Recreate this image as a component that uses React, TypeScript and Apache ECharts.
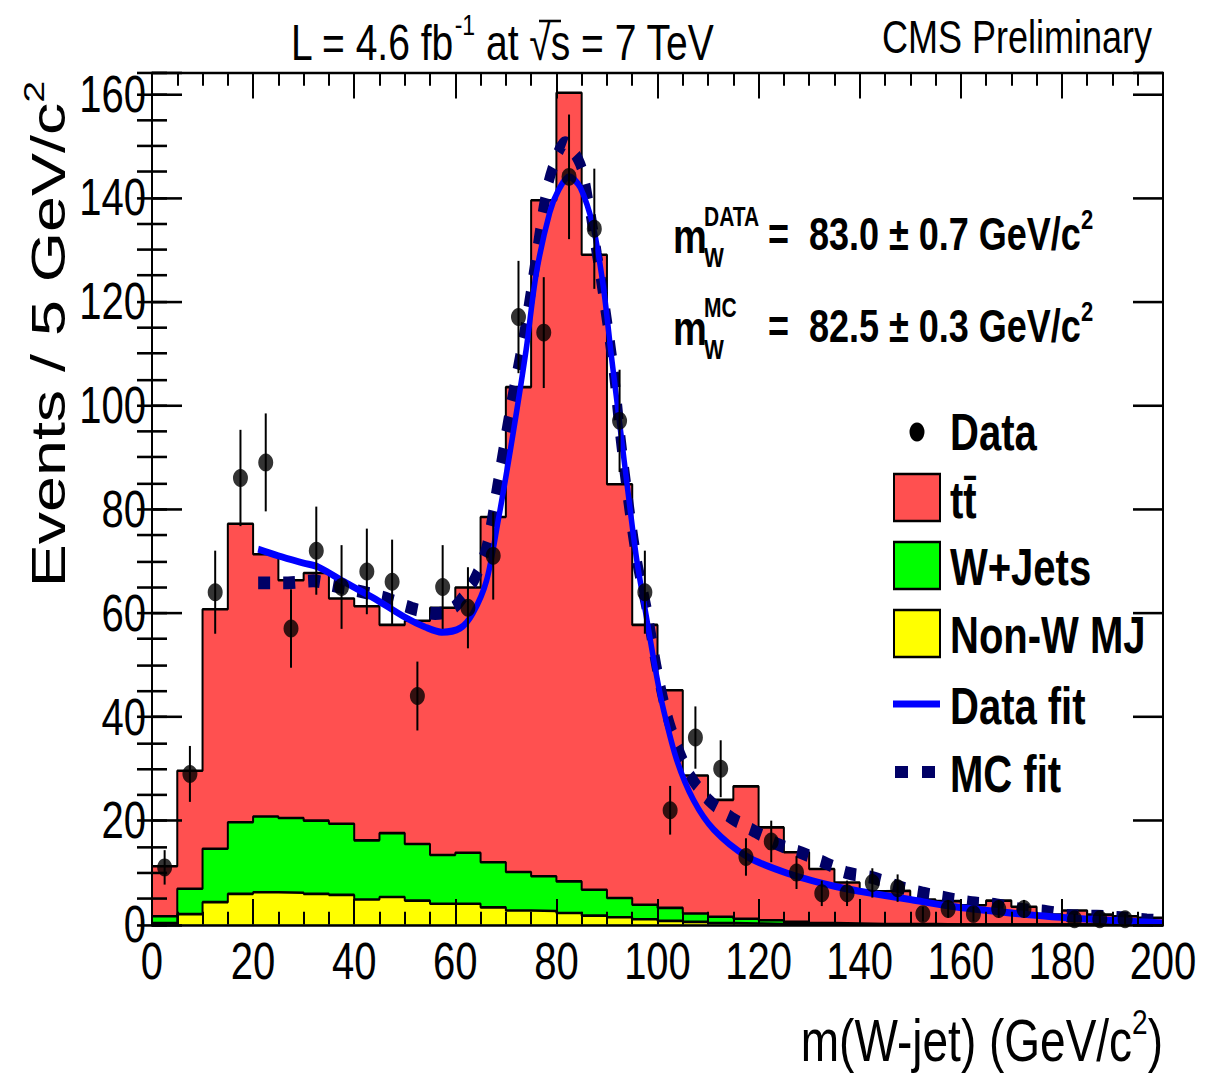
import React, { useEffect, useRef } from 'react';
import * as echarts from 'echarts';

// ---------------- data ----------------
const binWidth = 5; // GeV/c^2
// stacked MC contributions per 5 GeV bin, 0..200
const ttbar = [9.6, 22.7, 46.1, 57.5, 50.5, 45.8, 47.7, 43.4, 45.1, 40.1,
  43.0, 47.6, 51.1, 66.5, 93.4, 130.2, 151.9, 122.3, 79.7, 53.9,
  41.9, 26.6, 22.5, 25.5, 17.9, 13.4, 10.4, 7.9, 6.3, 6.4,
  4.7, 4.5, 3.7, 4.6, 3.4, 1.9, 2.7, 1.9, 1.6, 1.3];
const wJets = [1.3, 4.9, 10.3, 13.8, 14.6, 14.4, 14.1, 13.7, 11.4, 12.3,
  10.9, 9.4, 9.8, 8.7, 7.4, 6.7, 6.1, 5.0, 3.7, 2.8,
  2.5, 1.6, 1.2, 0.9, 0.7, 0.4, 0.3, 0.2, 0.1, 0.1,
  0.1, 0, 0, 0, 0, 0, 0, 0, 0, 0];
const nonWMJ = [0.3, 2.0, 4.3, 5.9, 6.2, 6.1, 5.9, 5.7, 4.8, 5.3,
  4.6, 4.0, 4.0, 3.3, 2.7, 2.6, 2.2, 1.7, 1.4, 1.0,
  0.7, 0.5, 0.3, 0.2, 0.1, 0.1, 0, 0, 0, 0,
  0, 0, 0, 0, 0, 0, 0, 0, 0, 0];
const dataCounts = [11, 29, 64, 86, 89, 57, 72, 65, 68, 66,
  44, 65, 61, 71, 117, 114, 144, 134, 97, 64,
  22, 36, 30, 13, 16, 10, 6, 6, 8, 7,
  2, 3, 2, 3, 3, 0, 1, 1, 1, 0];

const dataFitMass = [21, 25, 30, 33, 38, 44, 50, 54, 57.3, 61, 63.5, 66.2, 68.5, 71, 74, 76, 78.7, 80.5, 82.5, 84.7,
  87.3, 89.3, 90.9, 92.6, 94.2, 95.9, 97.9, 99.8, 101.2, 103.8, 107.1, 111.1, 117.7, 125.6, 134.8, 140, 150, 158, 168, 178, 190, 200];
const dataFitVals = [72.3, 71.0, 69.6, 68.8, 66.0, 62.8, 59.2, 57.3, 56.3, 57.1, 60.0, 66.3, 77.9, 92.0, 110.6, 125.3, 137.2, 141.6, 144.0, 142.0,
  134.3, 122.7, 109.3, 95.8, 83.0, 70.2, 58.7, 48.0, 41.3, 31.7, 24.0, 18.3, 13.1, 9.9, 7.4, 6.4, 4.8, 3.5, 2.4, 1.5, 0.8, 0.3];
const mcFitMass = [21, 26.9, 31.9, 36.5, 41.5, 46.4, 51.4, 56, 58.5, 60.6, 63.9, 66.2, 68.5, 71, 73.5, 75.4, 77.7, 79.1, 81.7, 84.7,
  86.3, 88, 89, 91.2, 92.6, 94.2, 95.9, 97.9, 99.8, 101.8, 103.8, 106.4, 110.1, 114.7, 119.3, 123.9, 128.5, 133.1, 137.7, 142.7,
  147.3, 152.3, 157.2, 162.2, 167.1, 172.1, 177, 181.6, 186.9, 191.6, 196.8, 200];
const mcFitVals = [65.8, 65.8, 66.2, 65.1, 64.1, 62.8, 60.9, 59.9, 60.3, 61.9, 66.7, 72.8, 85.6, 100.0, 113.1, 124.7, 139.4, 145.2, 150.6, 146.5,
  139.4, 129.2, 123.0, 107.7, 94.5, 81.7, 70.2, 60.6, 49.7, 40.7, 34.6, 28.8, 24.0, 20.5, 17.9, 15.4, 13.8, 11.9, 9.9, 9.0,
  7.4, 6.1, 5.1, 4.2, 3.8, 2.9, 2.5, 1.7, 1.6, 1.3, 0.9, 0.7];

const xMin = 0, xMax = 200, xStep = 20;
const yMin = 0, yMax = 164, yStep = 20, yMinorStep = 5;

// ---------------- layout ----------------
const W = 1227, H = 1077;
const S = 1.28;               // the original picture is stretched vertically
const Y = (v: number) => v / S; // reference pixel row -> chart row

const SANS = "'Liberation Sans', Arial, Helvetica, sans-serif";

const stepPoints = (vals: number[]) => {
  const pts: number[][] = [[0, 0]];
  vals.forEach((v, i) => pts.push([i * binWidth, v]));
  pts.push([vals.length * binWidth, vals[vals.length - 1]]);
  pts.push([vals.length * binWidth, 0]);
  return pts;
};

const txt = (x: number, y: number, text: string, o: any = {}) => ({
  type: 'text', x, y: Y(y), z: 100,
  scaleX: o.scaleX ?? 1, scaleY: 1, rotation: o.rotation ?? 0,
  style: {
    text, fill: '#000',
    fontSize: o.size ?? 40, fontFamily: SANS, fontWeight: o.weight ?? 'normal',
    align: o.align ?? 'left', verticalAlign: 'middle',
    textAlign: o.align ?? 'left', textVerticalAlign: 'middle',
    rich: o.rich,
  },
});

const supRich = (size: number, supSize: number, weight: string, lh: number) => ({
  n: { fontSize: size, fontWeight: weight, fontFamily: SANS, lineHeight: lh },
  s: { fontSize: supSize, fontWeight: weight, fontFamily: SANS, lineHeight: supSize, verticalAlign: 'top' },
});

export default function App() {
  const ref = useRef<HTMLDivElement>(null);
  useEffect(() => {
    if (!ref.current) return;
    const chart = echarts.init(ref.current, undefined, { renderer: 'svg' });

    const yellowTop = nonWMJ;
    const greenTop = nonWMJ.map((v, i) => v + wJets[i]);
    const redTop = greenTop.map((v, i) => v + ttbar[i]);
    const dataPts = dataCounts
      .map((c, i) => [i * binWidth + binWidth / 2, c])
      .filter((p) => p[1] > 0);

    const histLine = (name: string, vals: number[], color: string) => ({
      name, type: 'line', step: 'end', data: stepPoints(vals), symbol: 'none',
      lineStyle: { color: '#000', width: 2 }, areaStyle: { color, opacity: 1 },
      silent: true, z: 2,
    });

    const tickCommon = { color: '#000', width: 2 };
    const xAxisBase = {
      type: 'value', min: xMin, max: xMax, interval: xStep, z: 10,
      splitLine: { show: false },
      axisLine: { show: true, onZero: false, lineStyle: tickCommon },
      axisTick: { show: true, inside: true, length: 20, lineStyle: tickCommon },
      minorTick: { show: true, splitNumber: 4, length: 10, lineStyle: tickCommon },
    };
    const yMajorBase = {
      type: 'value', min: yMin, max: yMax, interval: yStep, z: 10,
      splitLine: { show: false },
      axisLine: { show: true, onZero: false, lineStyle: tickCommon },
      axisTick: { show: true, inside: true, length: 30, lineStyle: tickCommon },
    };
    const yMinorBase = {
      type: 'value', min: yMin, max: yMax, interval: yMinorStep, z: 10,
      splitLine: { show: false },
      axisLine: { show: false },
      axisLabel: { show: false },
      axisTick: { show: true, inside: true, length: 15, lineStyle: tickCommon },
    };

    const option: any = {
      animation: false,
      backgroundColor: '#fff',
      grid: { left: 152, right: 64, top: Y(73), bottom: Y(H - 925), show: false },
      xAxis: [
        { ...xAxisBase, position: 'bottom',
          axisLabel: { show: true, fontSize: 40, fontFamily: SANS, color: '#000', margin: 9 } },
        { ...xAxisBase, position: 'top', axisLabel: { show: false } },
      ],
      yAxis: [
        { ...yMajorBase, position: 'left',
          axisLabel: { show: true, fontSize: 40, fontFamily: SANS, color: '#000', margin: 6,
            formatter: (v: number) => (v % yStep === 0 ? String(v) : '') } },
        { ...yMinorBase, position: 'left' },
        { ...yMajorBase, position: 'right', axisLabel: { show: false } },
        { ...yMinorBase, position: 'right' },
      ],
      series: [
        histLine('ttbar', redTop, '#ff5050'),
        histLine('W+Jets', greenTop, '#00ff00'),
        histLine('Non-W MJ', yellowTop, '#ffff00'),
        {
          name: 'MC fit', type: 'line', smooth: 0.3, symbol: 'none', z: 4,
          data: mcFitMass.map((m, i) => [m, mcFitVals[i]]),
          lineStyle: { color: '#000066', width: 10, type: [12, 13], cap: 'butt' },
        },
        {
          name: 'Data fit', type: 'line', smooth: 0.3, symbol: 'none', z: 5,
          data: dataFitMass.map((m, i) => [m, dataFitVals[i]]),
          lineStyle: { color: '#0000ff', width: 5.5 },
        },
        {
          name: 'Data errors', type: 'custom', z: 6,
          data: dataPts.map(([x, c]) => [x, c, Math.sqrt(c)]),
          encode: { x: 0, y: 1 },
          renderItem: (_p: any, api: any) => {
            const x = api.value(0), y = api.value(1), e = api.value(2);
            const a = api.coord([x, y - e]);
            const b = api.coord([x, y + e]);
            return { type: 'line', shape: { x1: a[0], y1: a[1], x2: b[0], y2: b[1] },
              style: { stroke: '#000', lineWidth: 2 } };
          },
        },
        {
          name: 'Data', type: 'scatter', z: 7, data: dataPts,
          symbol: 'circle', symbolSize: [15, 14], itemStyle: { color: '#000' },
        },
      ],
      graphic: [
        // header
        txt(291, 42, '{n|L = 4.6 fb}{s|-1}{n| at \u221As = 7 TeV}', { size: 39, rich: supRich(39, 23, 'normal', 50) }),
        { type: 'line', z: 100, shape: { x1: 539, y1: Y(21), x2: 561, y2: Y(21) }, style: { stroke: '#000', lineWidth: 2 } },
        txt(1152, 37, 'CMS Preliminary', { size: 36, align: 'right' }),
        // y title (reads bottom to top)
        txt(48, 334, '{n|Events / 5 GeV/c}{s|2}', {
          size: 49, align: 'center', rotation: Math.PI / 2, scaleX: 1.03,
          rich: supRich(49, 30, 'normal', 60),
        }),
        // x title
        txt(1163, 1040, '{n|m(W-jet) (GeV/c}{s|2}{n|)}', { size: 46, align: 'right', rich: supRich(46, 28, 'normal', 57) }),
        // fitted masses
        txt(673, 236, 'm', { size: 38, weight: 'bold' }),
        txt(704, 217, 'DATA', { size: 21, weight: 'bold' }),
        txt(704, 258, 'W', { size: 21, weight: 'bold' }),
        txt(768, 234, '{n|=  83.0 \u00B1 0.7 GeV/c}{s|2}', { size: 36, weight: 'bold', rich: supRich(36, 22, 'bold', 46) }),
        txt(673, 328, 'm', { size: 38, weight: 'bold' }),
        txt(704, 308, 'MC', { size: 21, weight: 'bold' }),
        txt(704, 350, 'W', { size: 21, weight: 'bold' }),
        txt(768, 326, '{n|=  82.5 \u00B1 0.3 GeV/c}{s|2}', { size: 36, weight: 'bold', rich: supRich(36, 22, 'bold', 46) }),
        // legend
        { type: 'circle', z: 100, shape: { cx: 917, cy: Y(432), r: 7.5 }, style: { fill: '#000' } },
        txt(950, 432, 'Data', { size: 40, weight: 'bold' }),
        { type: 'rect', z: 100, shape: { x: 894, y: Y(474), width: 46, height: Y(47) }, style: { fill: '#ff5050', stroke: '#000', lineWidth: 2 } },
        txt(950, 500, 'tt\u0304', { size: 40, weight: 'bold' }),
        { type: 'rect', z: 100, shape: { x: 894, y: Y(542), width: 46, height: Y(47) }, style: { fill: '#00ff00', stroke: '#000', lineWidth: 2 } },
        txt(950, 567, 'W+Jets', { size: 40, weight: 'bold' }),
        { type: 'rect', z: 100, shape: { x: 894, y: Y(610), width: 46, height: Y(47) }, style: { fill: '#ffff00', stroke: '#000', lineWidth: 2 } },
        txt(950, 635, 'Non-W MJ', { size: 40, weight: 'bold' }),
        { type: 'line', z: 100, shape: { x1: 893, y1: Y(704), x2: 940, y2: Y(704) }, style: { stroke: '#0000ff', lineWidth: 5.5 } },
        txt(950, 706, 'Data fit', { size: 40, weight: 'bold' }),
        { type: 'rect', z: 100, shape: { x: 895, y: Y(766), width: 13, height: Y(12) }, style: { fill: '#000066' } },
        { type: 'rect', z: 100, shape: { x: 922, y: Y(766), width: 13, height: Y(12) }, style: { fill: '#000066' } },
        txt(950, 774, 'MC fit', { size: 40, weight: 'bold' }),
      ],
    };

    chart.setOption(option);
    return () => chart.dispose();
  }, []);

  return (
    <div style={{ position: 'fixed', left: 0, top: 0, width: W, height: H, overflow: 'hidden', background: '#fff' }}>
      <div ref={ref}
        style={{ width: W, height: H / S, transform: `scaleY(${S})`, transformOrigin: '0 0' }} />
    </div>
  );
}
